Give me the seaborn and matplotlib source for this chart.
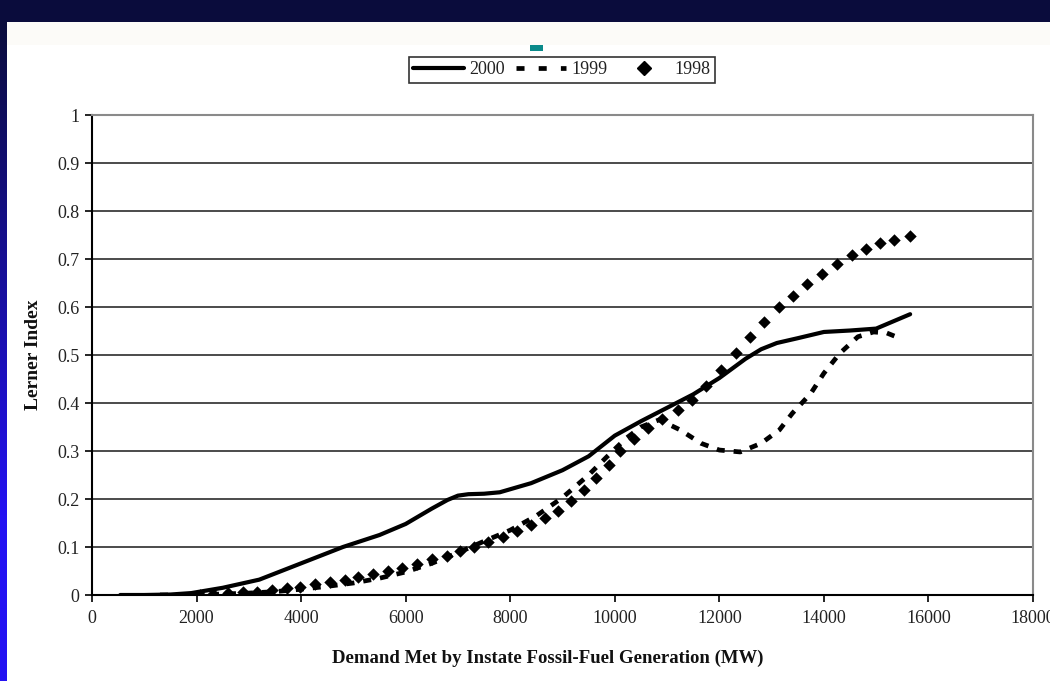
import numpy as np
import matplotlib
matplotlib.use("Agg")
import matplotlib.pyplot as plt
from matplotlib.patches import Rectangle
from matplotlib.lines import Line2D
from matplotlib.colors import LinearSegmentedColormap
import seaborn as sns

# Lerner index vs. demand met by in-state fossil-fuel generation (MW)
x_2000 = [540, 1000, 1500, 1900, 2500, 3200, 4000, 4800, 5500, 6000, 6500, 6800,
          7000, 7200, 7500, 7800, 8400, 9000, 9500, 10000, 10500, 11000, 11500,
          12000, 12500, 12800, 13100, 13500, 14000, 14500, 15000, 15650]
y_2000 = [0.000, 0.000, 0.001, 0.004, 0.015, 0.032, 0.066, 0.100, 0.125, 0.148,
          0.180, 0.198, 0.207, 0.210, 0.211, 0.214, 0.233, 0.260, 0.289, 0.332,
          0.362, 0.390, 0.418, 0.452, 0.492, 0.512, 0.525, 0.535, 0.548, 0.551,
          0.555, 0.585]

x_1999 = [1300, 1700, 2100, 2500, 3000, 3500, 4000, 4500, 5000, 5500, 6000, 6500,
          7000, 7500, 8000, 8500, 9000, 9500, 9850, 10200, 10500, 10850, 11250,
          11650, 12000, 12400, 12800, 13150, 13400, 13750, 14000, 14300, 14650,
          14950, 15200, 15450]
y_1999 = [0.000, 0.000, 0.001, 0.002, 0.004, 0.007, 0.012, 0.018, 0.025, 0.035,
          0.048, 0.066, 0.088, 0.112, 0.135, 0.165, 0.203, 0.250, 0.288, 0.325,
          0.350, 0.365, 0.344, 0.316, 0.302, 0.298, 0.316, 0.344, 0.379, 0.420,
          0.462, 0.503, 0.538, 0.548, 0.546, 0.535]

x_1998 = [2070, 2320, 2600, 2890, 3160, 3450, 3730, 3980, 4270, 4560, 4840, 5090,
          5380, 5670, 5930, 6220, 6510, 6790, 7040, 7300, 7580, 7860, 8130, 8400,
          8660, 8920, 9170, 9420, 9650, 9880, 10100, 10370, 10640, 10900, 11200,
          11480, 11750, 12040, 12310, 12590, 12860, 13150, 13400, 13680, 13960,
          14260, 14530, 14810, 15080, 15350, 15640]
y_1998 = [0.000, 0.002, 0.004, 0.006, 0.007, 0.010, 0.014, 0.017, 0.022, 0.027,
          0.032, 0.038, 0.044, 0.050, 0.057, 0.065, 0.074, 0.082, 0.091, 0.100,
          0.110, 0.121, 0.133, 0.146, 0.160, 0.176, 0.195, 0.218, 0.243, 0.270,
          0.300, 0.326, 0.348, 0.367, 0.385, 0.406, 0.435, 0.469, 0.504, 0.538,
          0.569, 0.600, 0.623, 0.648, 0.669, 0.690, 0.708, 0.720, 0.733, 0.740,
          0.748]

x_ticks = list(range(0, 18001, 2000))
y_ticks = [0, 0.1, 0.2, 0.3, 0.4, 0.5, 0.6, 0.7, 0.8, 0.9, 1]
y_tick_labels = ["0", "0.1", "0.2", "0.3", "0.4", "0.5", "0.6", "0.7", "0.8", "0.9", "1"]
series_names = ["2000", "1999", "1998"]

sns.set_style("white")
plt.rcParams["font.family"] = ["Liberation Serif", "DejaVu Serif"]

W, H = 1050, 681
NAVY = "#0a0c3c"
fig = plt.figure(figsize=(W / 100, H / 100), dpi=100, facecolor=NAVY)

# slide background in pixel space
bg = fig.add_axes([0, 0, 1, 1], zorder=-10)
bg.set_xlim(0, W)
bg.set_ylim(H, 0)
bg.axis("off")
grad = np.linspace(0, 1, 300)
grad = np.clip(grad / 0.75, 0, 1)[:, None]
side_cmap = LinearSegmentedColormap.from_list("side", [NAVY, "#2412f2"])
bg.imshow(grad, extent=[0, 7, H, 22], cmap=side_cmap, aspect="auto", zorder=1)
bg.add_patch(Rectangle((7, 22), W - 7, H - 22, facecolor="white", edgecolor="none", zorder=2))
bg.add_patch(Rectangle((7, 22), W - 7, 23, facecolor="#fcfbf8", edgecolor="none", zorder=3))
bg.add_patch(Rectangle((530, 45), 13, 6, facecolor="#0a8a8a", edgecolor="none", zorder=4))

ax = fig.add_axes([92 / W, 1 - 595 / H, (1033 - 92) / W, (595 - 115) / H])
ax.set_facecolor("white")

dash_style = (0, (1.7, 1.9))
sns.lineplot(x=x_2000, y=y_2000, ax=ax, color="black", lw=3.0, sort=False,
             estimator=None, zorder=4, solid_joinstyle="round")
sns.lineplot(x=x_1999, y=y_1999, ax=ax, color="black", lw=3.4, sort=False,
             estimator=None, zorder=3)
ax.lines[-1].set_linestyle(dash_style)
ax.lines[-1].set_dash_capstyle("butt")
sns.scatterplot(x=x_1998, y=y_1998, ax=ax, marker="D", s=40, color="black",
                edgecolor="black", linewidth=0, zorder=5)

ax.set_xlim(0, 18000)
ax.set_ylim(0, 1)
ax.set_xticks(x_ticks)
ax.set_xticklabels([str(t) for t in x_ticks])
ax.set_yticks(y_ticks)
ax.set_yticklabels(y_tick_labels)
ax.yaxis.grid(True, color="#1a1a1a", lw=1.1)
ax.xaxis.grid(False)
ax.set_axisbelow(True)

for side in ("left", "bottom"):
    ax.spines[side].set_color("black")
    ax.spines[side].set_linewidth(1.5)
for side in ("top", "right"):
    ax.spines[side].set_color("#8a8a8a")
    ax.spines[side].set_linewidth(1.5)

ax.tick_params(axis="both", direction="out", length=5, width=1.2, color="black",
               labelsize=13, labelcolor="#222222", left=True, bottom=True)
ax.tick_params(axis="x", pad=6)
ax.tick_params(axis="y", pad=4)

ax.set_xlabel("Demand Met by Instate Fossil-Fuel Generation (MW)", fontsize=13.5,
              fontweight="bold", color="#111111")
ax.set_ylabel("Lerner Index", fontsize=14, fontweight="bold", color="#111111")
ax.xaxis.set_label_coords((548 - 92) / 941, (595 - 650) / 480)
ax.yaxis.set_label_coords((42 - 92) / 941, 0.5)

handles = [
    Line2D([], [], color="black", lw=3.0),
    Line2D([], [], color="black", lw=3.4, linestyle=(0, (1.7, 3.0)), dash_capstyle="butt"),
    Line2D([], [], color="black", lw=0, marker="D", markersize=7),
]
leg = fig.legend(handles, series_names, loc="center", ncol=3,
                 bbox_to_anchor=(562 / W, 1 - 70 / H), bbox_transform=fig.transFigure,
                 frameon=True, fancybox=False, fontsize=13, handlelength=2.8,
                 handletextpad=0.3, columnspacing=0.6, borderpad=0.25,
                 borderaxespad=0)
leg.get_frame().set_edgecolor("black")
leg.get_frame().set_linewidth(1.2)
for t in leg.get_texts():
    t.set_color("#222222")

fig.savefig("out.png", dpi=100, facecolor=NAVY)
